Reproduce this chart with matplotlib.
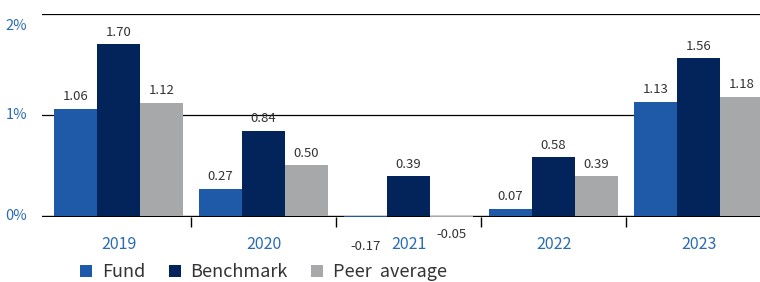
import numpy as np
import matplotlib.pyplot as plt
from matplotlib.patches import Patch

plt.rcParams['font.family'] = ['Noto Sans CJK KR', 'DejaVu Sans']

years = ["2019", "2020", "2021", "2022", "2023"]
fund = [1.06, 0.27, -0.17, 0.07, 1.13]
benchmark = [1.70, 0.84, 0.39, 0.58, 1.56]
peer = [1.12, 0.50, -0.05, 0.39, 1.18]
series_names = ["Fund", "Benchmark", "Peer  average"]
colors = ["#1f5aa8", "#02245a", "#a7a8aa"]
label_blue = "#2a6cb4"
text_grey = "#333333"

fig = plt.figure(figsize=(7.6, 2.82), dpi=100)
ax = fig.add_axes([42 / 760, (282 - 217) / 282, 1 - 42 / 760, (217 - 14) / 282])

x = np.arange(len(years))
w = 0.297
for i, (vals, c) in enumerate(zip([fund, benchmark, peer], colors)):
    pos = x + (i - 1) * w
    ax.bar(pos, vals, width=w, color=c, zorder=3)
    for xp, v in zip(pos, vals):
        if v >= 0:
            ax.annotate(f"{v:.2f}", (xp, v), xytext=(0, 4), textcoords="offset points",
                        ha="center", va="bottom", fontsize=9.5, color=text_grey,
                        annotation_clip=False)
        else:
            ax.annotate(f"{v:.2f}", (xp, v), xytext=(0, -5), textcoords="offset points",
                        ha="center", va="top", fontsize=9.5, color=text_grey,
                        annotation_clip=False)

ax.set_xlim(-0.528, 4.424)
ax.set_ylim(-0.012, 2.0)

for g in [1, 2]:
    ax.axhline(g, color="black", lw=0.9, zorder=1)
ax.axhline(0, color="black", lw=1.0, zorder=2)

for s in ax.spines.values():
    s.set_visible(False)

ax.set_yticks([0, 1, 2])
ax.set_yticklabels([])
for g, lab, dy in [(0, "0%", 0), (1, "1%", 0), (2, "2%", -0.12)]:
    ax.text(-0.63, g + dy, lab, transform=ax.transData, ha="right", va="center",
            fontsize=10.5, color=label_blue, clip_on=False)
ax.tick_params(axis="y", length=0)

ax.set_xticks(x)
ax.set_xticklabels(years, fontsize=11.5, color=label_blue)
ax.tick_params(axis="x", which="major", length=0, pad=14)
ax.set_xticks(x[:-1] + 0.5, minor=True)
ax.tick_params(axis="x", which="minor", length=7, width=1, color="black")

handles = [Patch(facecolor=c, edgecolor="none") for c in colors]
fig.legend(handles, series_names, loc="center", bbox_to_anchor=(0.347, 0.035), ncol=3,
           frameon=False, fontsize=13, labelcolor=text_grey, handlelength=0.65,
           handleheight=0.65, handletextpad=0.55, columnspacing=1.3, borderpad=0)

fig.savefig("out.png", dpi=100)
